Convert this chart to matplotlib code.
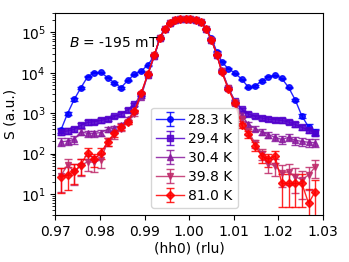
import numpy as np
import matplotlib
matplotlib.use("Agg")
import matplotlib.pyplot as plt

# (hh0) positions
hh0 = [0.9712, 0.9727, 0.9742, 0.9757, 0.9772, 0.9787, 0.9802, 0.9817, 0.9832, 0.9847,
       0.9862, 0.9877, 0.9892, 0.9907, 0.9922,
       0.9934, 0.9945, 0.9957, 0.9969, 0.9980, 0.9992, 1.0003, 1.0015, 1.0027, 1.0038,
       1.0050, 1.0062,
       1.0073, 1.0088, 1.0103, 1.0118, 1.0133, 1.0148, 1.0163, 1.0178, 1.0193, 1.0208,
       1.0223, 1.0238, 1.0253, 1.0268, 1.0283]

peak = [4.85, 5.08, 5.22, 5.30, 5.32, 5.34, 5.34, 5.31, 5.25, 5.08, 4.82, 4.45]

# log10 intensities
log_28_3 = ([2.58, 2.99, 3.34, 3.63, 3.90, 4.00, 4.01, 3.88, 3.75, 3.63, 3.81, 3.96, 4.04, 4.19, 4.42]
            + [4.87, 5.09, 5.22, 5.30, 5.32, 5.34, 5.34, 5.31, 5.25, 5.09, 4.86, 4.52]
            + [4.27, 4.10, 3.99, 3.84, 3.64, 3.67, 3.80, 3.90, 3.94, 3.86, 3.64, 3.33, 2.93, 2.66, 2.54])
log_29_4 = ([2.54, 2.56, 2.60, 2.70, 2.77, 2.79, 2.82, 2.86, 2.92, 2.98, 3.08, 3.22, 3.45, 3.95, 4.42]
            + peak
            + [4.05, 3.62, 3.30, 3.10, 2.98, 2.92, 2.88, 2.85, 2.84, 2.82, 2.78, 2.72, 2.65, 2.58, 2.52])
log_30_4 = ([2.29, 2.31, 2.35, 2.54, 2.50, 2.50, 2.52, 2.60, 2.63, 2.70, 2.85, 3.05, 3.40, 3.95, 4.42]
            + peak
            + [4.08, 3.63, 3.25, 2.95, 2.72, 2.62, 2.54, 2.47, 2.40, 2.35, 2.40, 2.33, 2.30, 2.28, 2.27])
log_39_8 = ([1.45, 1.72, 1.55, 1.70, 1.80, 1.78, 1.85, 2.30, 2.45, 2.62, 2.78, 2.98, 3.48, 3.96, 4.43]
            + peak
            + [4.05, 3.62, 3.28, 2.85, 2.55, 2.25, 2.00, 1.75, 1.70, 1.52, 1.55, 1.43, 1.35, 1.47, 1.67])
log_81_0 = ([1.43, 1.47, 1.56, 1.72, 2.02, 1.86, 2.02, 2.29, 2.50, 2.66, 2.79, 3.05, 3.49, 3.96, 4.45]
            + peak
            + [4.02, 3.59, 3.24, 2.70, 2.48, 2.19, 1.94, 1.86, 1.94, 1.26, 1.26, 1.26, 1.26, 0.77, 1.06])

temps = ["28.3 K", "29.4 K", "30.4 K", "39.8 K", "81.0 K"]
series = [log_28_3, log_29_4, log_30_4, log_39_8, log_81_0]
colors = ["#0000ff", "#5200cc", "#8a1a9e", "#c02a6a", "#ff0000"]
markers = ["o", "s", "^", "v", "D"]

fig = plt.figure(figsize=(3.49, 2.62), dpi=100)
ax = fig.add_axes([0.159, 0.179, 0.766, 0.771])

x = np.array(hh0)
for lab, s, c, m in zip(temps, series, colors, markers):
    y = 10 ** np.array(s)
    yerr = np.sqrt(10.0 * y)
    lo = np.minimum(yerr, y * 0.999)
    ax.errorbar(x, y, yerr=[lo, yerr], color=c, marker=m, markersize=4,
                lw=1.0, elinewidth=1.0, capsize=3, label=lab, alpha=0.85)

ax.set_yscale("log")
ax.set_xlim(0.97, 1.03)
ax.set_ylim(3, 3e5)
ax.set_xticks([0.97, 0.98, 0.99, 1.00, 1.01, 1.02, 1.03])
ax.set_xticklabels(["0.97", "0.98", "0.99", "1.00", "1.01", "1.02", "1.03"])
ax.tick_params(labelsize=10)
ax.set_xlabel("(hh0) (rlu)", fontsize=10, labelpad=2)
ax.set_ylabel("S (a.u.)", fontsize=10, labelpad=2)
ax.text(0.05, 0.85, r"$B$ = -195 mT", transform=ax.transAxes, fontsize=10,
        va="center", ha="left")
ax.legend(loc="lower center", bbox_to_anchor=(0.52, 0.0), fontsize=10,
          handlelength=2.0, labelspacing=0.35, borderpad=0.4, handletextpad=0.3)

fig.savefig("out.png", dpi=100)
